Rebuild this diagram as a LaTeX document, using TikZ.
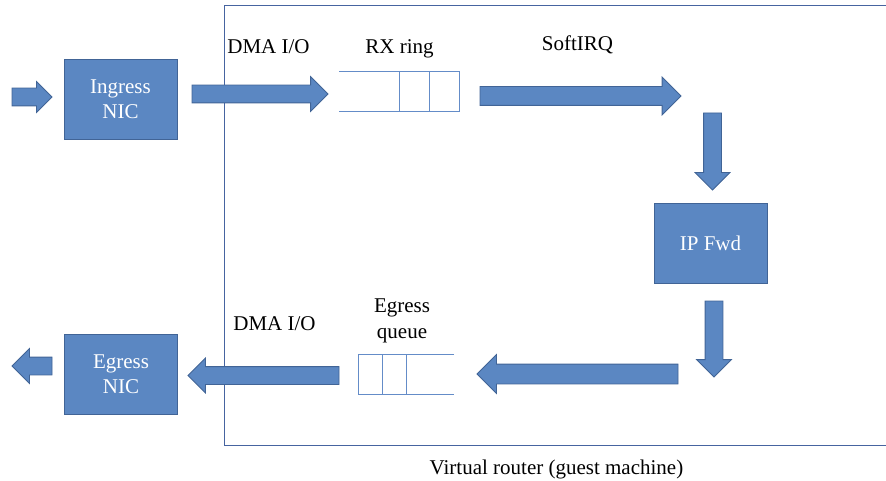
\documentclass[tikz,border=0pt]{standalone}
\usepackage{fontspec}
\setmainfont{Liberation Serif}
\usetikzlibrary{shapes.arrows}
\definecolor{boxblue}{RGB}{91,135,194}
\definecolor{edgeblue}{RGB}{65,100,150}
\definecolor{ringblue}{RGB}{100,140,200}
\definecolor{vmblue}{RGB}{70,100,160}
\begin{document}
\begin{tikzpicture}[x=1pt,y=-1pt,
                    nicbox/.style={draw=edgeblue,fill=boxblue,line width=0.8pt,text=white,minimum width=113pt,minimum height=80pt,inner sep=0pt,align=center,font=\fontsize{21}{25}\selectfont},
                    blockarrow/.style={single arrow,draw=edgeblue,fill=boxblue,line width=0.8pt,single arrow head extend=8.5pt,single arrow tip angle=90,inner xsep=0pt,inner ysep=8.5pt,outer sep=0pt,anchor=tail},
                    ring/.style={draw=ringblue,line width=0.9pt},
                    lbl/.style={anchor=base,font=\fontsize{21}{26}\selectfont}]
                    \useasboundingbox (0,0) rectangle (886,481);
                    \draw [vmblue,line width=1pt] (886,6) -- (224,6) -- (224,445) -- (886,445);
                    \node (ingress) at (120.5,99) [nicbox] {Ingress\\NIC};
                    \node (egress) at (121,374) [nicbox] {Egress\\NIC};
                    \node (ipfwd) at (710.5,243) [nicbox] {IP Fwd};
                    \draw [ring] (339,71) -- (459,71) -- (459,111) -- (339,111);
                    \foreach \x in {399,429} \draw [ring] (\x,71) -- (\x,111);
                    \draw [ring] (454,354) -- (358,354) -- (358,394) -- (454,394);
                    \foreach \x in {382,406} \draw [ring] (\x,354) -- (\x,394);
                    \node (inarrow) at (12,97) [blockarrow,minimum height=40pt,single arrow head extend=6.5pt] {};
                    \node (dmain) at (192,94) [blockarrow,minimum height=136pt] {};
                    \node (softarrow) at (480,96) [blockarrow,minimum height=201pt,inner ysep=9pt,single arrow head extend=9.5pt] {};
                    \node (fwdin) at (712.5,113) [blockarrow,rotate=-90,minimum height=77pt] {};
                    \node (fwdout) at (714,301) [blockarrow,rotate=-90,minimum height=76pt] {};
                    \node (egarrow) at (678,374) [blockarrow,rotate=180,minimum height=201pt,inner ysep=9.5pt,single arrow head extend=9.5pt] {};
                    \node (dmaout) at (339,375.5) [blockarrow,rotate=180,minimum height=151pt] {};
                    \node (outarrow) at (52,366) [blockarrow,rotate=180,minimum height=40pt] {};
                    \node (dmainlbl) at (268.5,54) [lbl] {DMA I/O};
                    \node (rxlbl) at (399.5,54) [lbl] {RX ring};
                    \node (softlbl) at (577.5,51) [lbl] {SoftIRQ};
                    \node (dmaoutlbl) at (274.5,330) [lbl] {DMA I/O};
                    \node (eqlbl) at (402,321) [lbl,anchor=center,align=center] {Egress\\queue};
                    \node (vmlbl) at (556.5,474) [lbl] {Virtual router (guest machine)};
                \end{tikzpicture}
\end{document}
